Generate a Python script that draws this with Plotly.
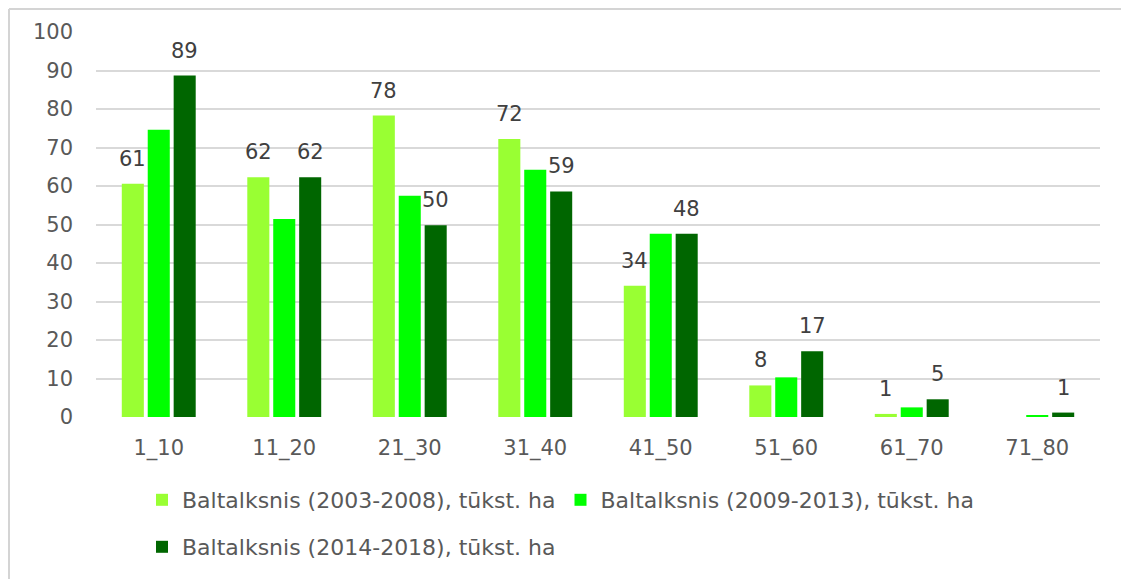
import plotly.graph_objects as go

categories = ["1_10", "11_20", "21_30", "31_40", "41_50", "51_60", "61_70", "71_80"]
series_names = [
    "Baltalksnis (2003-2008), tūkst. ha",
    "Baltalksnis (2009-2013), tūkst. ha",
    "Baltalksnis (2014-2018), tūkst. ha",
]
s2003_2008 = [60.6, 62.3, 78.3, 72.2, 34.1, 8.2, 0.8, None]
s2009_2013 = [74.6, 51.4, 57.5, 64.2, 47.6, 10.3, 2.5, 0.4]
s2014_2018 = [88.7, 62.3, 49.8, 58.6, 47.6, 17.1, 4.6, 1.15]
y_ticks = [0, 10, 20, 30, 40, 50, 60, 70, 80, 90, 100]

colors = ["#99FF33", "#00FF00", "#006600"]
series = [s2003_2008, s2009_2013, s2014_2018]
labelled = [True, False, True]
legends = ["legend", "legend", "legend2"]

FONT = "DejaVu Sans"
OFF = 8  # page offset of the figure inside the html body
W, H = 1129, 579
ML, MR, MT, MB = 96 - OFF, 29 + OFF, 32 - OFF, 162 + OFF
PW = W - ML - MR
PH = H - MT - MB

fig = go.Figure()
for name, vals, col, lg in zip(series_names, series, colors, legends):
    fig.add_trace(go.Bar(x=categories, y=vals, name=name, marker_color=col,
                         marker_line_width=0, legend=lg))

# data labels
slot = PW / len(categories) * (1 - 0.38) / 3
for i, (vals, lab) in enumerate(zip(series, labelled)):
    if not lab:
        continue
    for c, v in zip(categories, vals):
        if v is None:
            continue
        fig.add_annotation(x=c, y=v, text=f"{v:.0f}", showarrow=False,
                           xshift=(i - 1) * slot, yshift=25, yanchor="middle",
                           font=dict(family=FONT, size=21, color="#404040"))

def px_x(p):
    # p in page pixels
    return (p - OFF - ML) / PW

def px_y(p):
    return 1 - (p - OFF - MT) / PH

# outer frame (top and left edges)
fig.add_shape(type="line", xref="paper", yref="paper",
              x0=px_x(OFF + 1), x1=px_x(W + OFF), y0=px_y(OFF + 1), y1=px_y(OFF + 1),
              line=dict(color="#d4d4d4", width=2))
fig.add_shape(type="line", xref="paper", yref="paper",
              x0=px_x(OFF + 1), x1=px_x(OFF + 1), y0=px_y(OFF + 1), y1=px_y(H + OFF),
              line=dict(color="#d4d4d4", width=2))

legend_common = dict(orientation="h", xanchor="left", yanchor="middle",
                     font=dict(family=FONT, size=22, color="#595959"),
                     bgcolor="rgba(0,0,0,0)", itemclick=False)
fig.update_layout(
    width=W, height=H,
    margin=dict(l=ML, r=MR, t=MT, b=MB),
    paper_bgcolor="white", plot_bgcolor="white",
    barmode="group", bargap=0.38, bargroupgap=0.15,
    font=dict(family=FONT, color="#595959"),
    legend=dict(x=px_x(142), y=px_y(500), **legend_common),
    legend2=dict(x=px_x(142), y=px_y(547), **legend_common),
    xaxis=dict(type="category", showgrid=False, showline=False, ticks="",
               tickfont=dict(family=FONT, size=21, color="#595959"),
               ticklabelstandoff=16),
    yaxis=dict(range=[0, 100], tickvals=y_ticks, showgrid=True,
               gridcolor="#d9d9d9", gridwidth=2, zeroline=False, showline=False,
               tickfont=dict(family=FONT, size=21, color="#595959"),
               ticklabelstandoff=22),
)

fig.write_html("out.html")
